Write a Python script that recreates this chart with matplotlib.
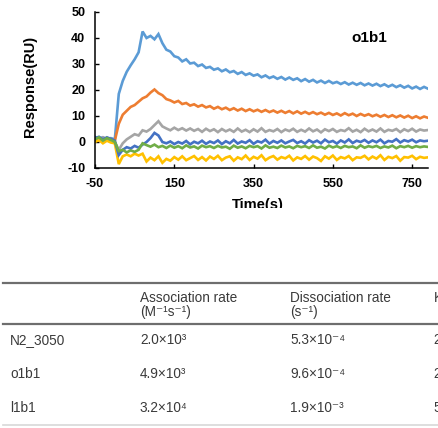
import numpy as np
import matplotlib
matplotlib.use("Agg")
import matplotlib.pyplot as plt
from matplotlib.patches import Rectangle
from matplotlib.lines import Line2D

plt.rcParams['font.family'] = ['Liberation Sans', 'DejaVu Sans']
plt.rcParams['axes.unicode_minus'] = False
plt.rcParams['mathtext.fontset'] = 'custom'
plt.rcParams['mathtext.rm'] = 'Liberation Sans'
plt.rcParams['mathtext.it'] = 'Liberation Sans:italic'
plt.rcParams['mathtext.bf'] = 'Liberation Sans:bold'

# Sensorgram time axis (s), one reading every 10 s
time_s = np.arange(-50, 800, 10)

# Response (RU) for each analyte concentration
resp_blue = [
    2.0, 1.2, 1.8, 0.9, 1.5, 1.0, 18.5, 23.5, 27.0, 29.5,
    31.8, 34.5, 42.5, 40.0, 40.8, 39.5, 41.5, 38.0, 35.5, 34.8,
    33.0, 32.5, 31.0, 31.8, 30.2, 30.5, 29.2, 29.8, 28.5, 28.9,
    27.8, 28.3, 27.2, 27.9, 26.8, 27.3, 26.2, 26.9, 25.8, 26.4,
    25.5, 26.0, 24.9, 25.6, 24.6, 25.2, 24.3, 25.0, 24.0, 24.8,
    23.9, 24.5, 23.4, 24.2, 23.2, 23.9, 22.9, 23.6, 22.7, 23.5,
    22.6, 23.1, 22.3, 23.0, 22.1, 22.8, 22.0, 22.7, 21.8, 22.5,
    21.7, 22.4, 21.5, 22.2, 21.3, 22.0, 21.1, 21.8, 20.9, 21.6,
    20.6, 21.3, 20.4, 21.2, 20.5,
]
resp_orange = [
    1.2, 0.5, 1.5, 0.8, 1.0, 0.5, 7.0, 10.5, 12.0, 13.5,
    14.2, 15.5, 16.8, 17.5, 19.0, 20.2, 18.8, 18.0, 16.5, 16.0,
    15.2, 15.8, 14.6, 15.0, 14.0, 14.5, 13.6, 14.2, 13.3, 13.8,
    12.8, 13.5, 12.6, 13.2, 12.3, 13.0, 12.1, 12.8, 11.9, 12.6,
    11.8, 12.4, 11.6, 12.3, 11.5, 12.1, 11.3, 12.0, 11.2, 11.9,
    11.0, 11.8, 10.9, 11.6, 10.8, 11.5, 10.7, 11.3, 10.5, 11.2,
    10.4, 11.0, 10.2, 11.1, 10.3, 10.9, 10.0, 10.8, 10.1, 10.7,
    9.9, 10.5, 9.7, 10.4, 9.6, 10.3, 9.5, 10.2, 9.4, 10.1,
    9.2, 9.9, 9.1, 9.8, 9.3,
]
resp_gray = [
    1.5, 0.8, 1.8, 1.0, 1.3, 0.0, -3.0, -0.5, 1.0, 2.0,
    3.0, 2.5, 4.5, 4.0, 5.0, 6.5, 8.0, 6.0, 5.2, 4.5,
    5.5, 4.6, 5.3, 4.4, 5.2, 4.3, 5.0, 3.9, 5.1, 4.2,
    4.9, 3.8, 5.0, 4.1, 4.8, 3.9, 5.2, 4.0, 4.7, 3.8,
    4.9, 4.0, 5.3, 3.9, 4.6, 4.1, 5.0, 3.8, 4.8, 4.2,
    5.1, 3.9, 4.7, 4.0, 5.2, 4.1, 4.8, 3.7, 4.9, 4.2,
    5.0, 3.9, 4.6, 4.2, 5.3, 4.0, 4.7, 3.8, 5.1, 4.1,
    4.8, 4.0, 5.2, 3.9, 4.7, 4.3, 5.0, 3.8, 4.9, 4.2,
    5.1, 4.0, 4.8, 4.4, 4.6,
]
resp_yellow = [
    0.0, 0.8, -0.5, 0.5, -0.2, -0.5, -8.5, -5.5, -4.8, -5.5,
    -4.5, -5.2, -4.5, -7.5, -6.0, -7.0, -5.5, -8.0, -6.5, -7.2,
    -5.8, -6.8, -5.5, -7.0, -6.2, -5.4, -6.9, -5.8, -7.1, -5.6,
    -6.5, -5.3, -7.0, -6.0, -5.5, -7.2, -5.9, -6.6, -5.2, -6.9,
    -5.7, -6.4, -5.1, -7.0, -6.0, -5.4, -6.8, -5.8, -6.3, -5.3,
    -7.1, -5.9, -6.5, -5.4, -6.8, -5.6, -6.2, -7.3, -5.5, -6.4,
    -5.2, -6.9, -5.8, -6.3, -5.4, -7.0, -5.9, -6.1, -5.3, -6.7,
    -5.6, -6.4, -5.1, -6.9, -5.7, -6.2, -5.4, -7.2, -5.8, -6.0,
    -5.3, -6.6, -5.7, -6.1, -5.9,
]
resp_navy = [
    1.5, 2.0, 1.0, 1.8, 1.2, 0.5, -5.0, -3.0, -2.0, -2.5,
    -1.5, -2.2, -1.0, 0.0, 1.5, 3.5, 2.5, 0.0, -0.5, 0.2,
    -0.8, 0.0, -0.6, 0.4, -0.9, 0.1, -0.5, 0.5, -0.7, 0.2,
    -0.4, 0.6, -0.8, 0.3, -0.5, 0.8, -0.6, 0.2, -0.3, 0.7,
    -0.7, 0.3, -0.2, 0.9, -0.6, 0.4, -0.3, 0.6, -0.5, 0.2,
    0.8, -0.4, 0.3, -0.6, 0.7, -0.2, 0.5, -0.5, 0.9, -0.1,
    0.4, -0.6, 0.6, -0.2, 1.0, -0.4, 0.5, 0.0, 0.8, -0.3,
    0.6, -0.1, 0.9, -0.5, 0.4, 0.1, 1.1, -0.2, 0.7, 0.2,
    0.9, -0.1, 0.6, 0.3, 0.5,
]
resp_green = [
    1.0, 1.8, 0.5, 1.5, 0.8, 0.0, -3.5, -3.0, -4.0, -3.2,
    -3.8, -3.0, -0.5, -1.2, -1.8, -1.0, -2.0, -1.5, -2.3, -1.4,
    -2.2, -1.6, -2.4, -1.3, -2.1, -1.7, -2.5, -1.4, -2.0, -1.6,
    -2.3, -1.5, -2.1, -1.8, -2.6, -1.4, -2.2, -1.7, -2.4, -1.5,
    -2.0, -1.6, -2.5, -1.3, -2.2, -1.8, -2.3, -1.4, -2.1, -1.7,
    -2.4, -1.5, -2.0, -1.6, -2.3, -1.3, -2.2, -1.8, -2.5, -1.4,
    -2.1, -1.6, -2.3, -1.5, -2.0, -1.7, -2.4, -1.3, -2.2, -1.6,
    -2.0, -1.5, -2.3, -1.7, -2.1, -1.4, -2.4, -1.6, -2.0, -1.5,
    -2.2, -1.6, -2.0, -1.7, -1.9,
]

series = [
    (resp_blue, '#5B9BD5'),
    (resp_orange, '#ED7D31'),
    (resp_gray, '#A5A5A5'),
    (resp_yellow, '#FFC000'),
    (resp_navy, '#4472C4'),
    (resp_green, '#70AD47'),
]

x_ticks = [-50, 150, 350, 550, 750]
y_ticks = [-10, 0, 10, 20, 30, 40, 50]

# Kinetics table
header_assoc = ['Association rate', '(M⁻¹s⁻¹)']
header_dissoc = ['Dissociation rate', '(s⁻¹)']
header_kd = r'K$_{\mathrm{D}}$ (M)'
row_names = ['N2_3050', 'o1b1', 'l1b1']
assoc_rate = ['2.0×10³', '4.9×10³', '3.2×10⁴']
dissoc_rate = ['5.3×10⁻⁴', '9.6×10⁻⁴', '1.9×10⁻³']
kd_value = ['2.7×10⁻⁷', '2.0×10⁻⁷', '5.9×10⁻⁸']

W, H = 438, 428
fig = plt.figure(figsize=(W / 100, H / 100), dpi=100)
ax = fig.add_axes([95 / W, 1 - 168 / H, 333 / W, 156 / H])

for values, color in series:
    ax.plot(time_s, values, color=color, lw=1.9, solid_joinstyle='miter')

ax.set_xlim(-50, 790)
ax.set_ylim(-10, 50)
ax.set_xticks(x_ticks)
ax.set_yticks(y_ticks)
for side in ('top', 'right'):
    ax.spines[side].set_visible(False)
for side in ('left', 'bottom'):
    ax.spines[side].set_linewidth(1.1)
ax.tick_params(direction='in', length=3, width=1, labelsize=9, pad=7)
for lab in ax.get_xticklabels() + ax.get_yticklabels():
    lab.set_fontweight('bold')

ax.set_ylabel('Response(RU)', fontsize=10.5, fontweight='bold')
ax.yaxis.set_label_coords(-0.175, 0.52)
ax.set_xlabel('Time(s)', fontsize=10.5, fontweight='bold')
ax.xaxis.set_label_coords(0.49, -0.19)
ax.text(642, 40, 'o1b1', ha='center', va='center', fontsize=11,
        fontweight='bold')

# blank band between the chart panel and the table
fig.add_artist(Rectangle((0, 1 - 280 / H), 1, (280 - 208) / H,
                         transform=fig.transFigure, facecolor='white',
                         edgecolor='none', zorder=10))

def fy(py):
    return 1 - py / H

tc = '#3a3a3a'
fs = 9.8
for py, col, w in [(283, '#6e6e6e', 1.6), (324, '#6e6e6e', 1.6), (425, '#d8d8d8', 1.2)]:
    fig.add_artist(Line2D([3 / W, 1], [fy(py), fy(py)], color=col, lw=w,
                          transform=fig.transFigure, zorder=11))

col_x = [10, 140, 290, 433]
for k, txt in enumerate(header_assoc):
    fig.text(col_x[1] / W, fy(302 + 14 * k), txt, fontsize=fs, color=tc,
             va='baseline', zorder=12)
for k, txt in enumerate(header_dissoc):
    fig.text(col_x[2] / W, fy(302 + 14 * k), txt, fontsize=fs, color=tc,
             va='baseline', zorder=12)
fig.text(col_x[3] / W, fy(302), header_kd, fontsize=fs, color=tc,
         va='baseline', zorder=12)

row_y = [344, 378, 412]
for i, name in enumerate(row_names):
    y = fy(row_y[i])
    for cx, txt in zip(col_x, [name, assoc_rate[i], dissoc_rate[i], kd_value[i]]):
        fig.text(cx / W, y, txt, fontsize=fs, color=tc, va='baseline', zorder=12)

fig.savefig('out.png', dpi=100, facecolor='white')
